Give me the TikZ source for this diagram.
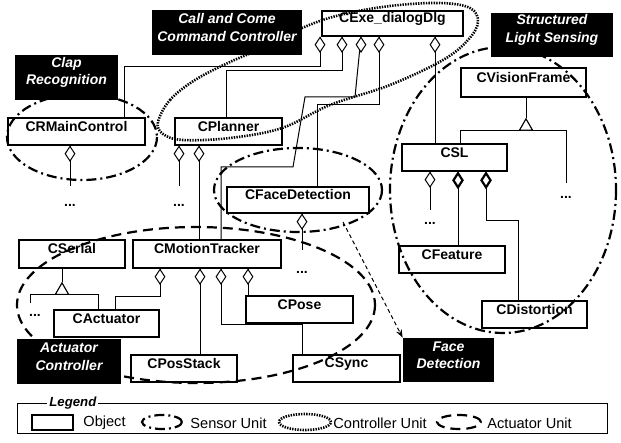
\documentclass[tikz,border=0pt]{standalone}
\usepackage{fontspec}
\setmainfont{Liberation Sans}
\usetikzlibrary{shapes.geometric,fit,arrows.meta}
\newcommand\objfont{\bfseries\fontsize{7}{8}\selectfont}
\newcommand\labfont{\bfseries\itshape\fontsize{7}{8.6}\selectfont}
\newcommand\legfont{\fontsize{7.3}{8.5}\selectfont}
\begin{document}
\begin{tikzpicture}[x=0.5pt,y=-0.5pt,
  obj/.style={draw, fill=white, line width=0.7pt, inner sep=0, font=\objfont},
  lab/.style={fill=black, text=white, inner sep=0, align=center, font=\labfont},
  dia/.style={diamond, draw, fill=white, line width=0.5pt, inner sep=0, minimum width=5pt, minimum height=7.5pt, anchor=north},
  bdia/.style={dia, line width=1.1pt},
  tri/.style={regular polygon, regular polygon sides=3, draw, fill=white, inner sep=0, minimum size=7.5pt, line width=0.5pt, anchor=north},
  conn/.style={line width=0.5pt},
  dotsn/.style={font=\objfont, inner xsep=0},
  sensor/.style={line width=1.1pt, dash pattern=on 5pt off 2pt on 1pt off 2pt},
  ctrl/.style={line width=1.3pt, dash pattern=on 0.7pt off 0.6pt},
  actu/.style={line width=1.1pt, dash pattern=on 5pt off 3pt},
  fdarrow/.style={line width=0.5pt, dash pattern=on 2pt off 1.5pt, -{Stealth[length=4pt,width=3pt]}}
]
\useasboundingbox (0,0) rectangle (621,443);

% ---------- object boxes ----------
\node[obj, fit={(322,11) (463,36)}] (exe) {CExe\_dialogDlg};
\node[obj, fit={(8,118) (145,145)}] (rmc) {CRMainControl};
\node[obj, fit={(175,118) (282,145)}] (plan) {CPlanner};
\node[obj, fit={(461,68) (586,97)}] (vis) {CVisionFrame};
\node[obj, fit={(402,144) (507,171)}] (csl) {CSL};
\node[obj, fit={(227,187) (369,213)}] (face) {CFaceDetection};
\node[obj, fit={(19,240) (125,268)}] (serial) {CSerial};
\node[obj, fit={(133,240) (281,268)}] (motion) {CMotionTracker};
\node[obj, fit={(399,246) (505,273)}] (feat) {CFeature};
\node[obj, fit={(54,310) (159,337)}] (act) {CActuator};
\node[obj, fit={(246,296) (353,323)}] (pose) {CPose};
\node[obj, fit={(131,355) (237,382)}] (posstack) {CPosStack};
\node[obj, fit={(293,355) (400,382)}] (sync) {CSync};
\node[obj, fit={(482,301) (587,328)}] (dist) {CDistortion};

% ---------- "..." ----------
\node[dotsn, inner ysep=9pt] (rdots) at (70,205) {...};
\node[dotsn, inner ysep=9pt] (pdots) at (179,205) {...};
\node[dotsn, inner ysep=10.5pt] (fdots) at (302,272) {...};
\node[dotsn, inner ysep=6pt] (csldots) at (430,223) {...};
\node[dotsn, inner ysep=6.5pt] (vdots) at (566,197) {...};
\node[dotsn, inner ysep=2pt] (adots) at (35,315) {...};
\coordinate (sfree) at (30,303);

% ---------- connectors ----------
\draw[conn] (320,0 |- exe.south) |- (124,67) -- (124,0 |- rmc.north);
\draw[conn] (342,0 |- exe.south) |- (226,71) -- (226,0 |- plan.north);
\draw[conn] (361,0 |- exe.south) -- (355,97) -- (305,97) -- (293,167) -- (221,167) -- (221,0 |- motion.north);
\draw[conn] (379,0 |- exe.south) |- (317,105) -- (317,0 |- face.north);
\draw[conn] (435,0 |- exe.south) -- (435,0 |- csl.north);

\draw[conn] (70,0 |- rmc.south) -- (rdots.north);
\draw[conn] (179,0 |- plan.south) -- (pdots.north);
\draw[conn] (199,0 |- plan.south) -- (199,0 |- motion.north);
\draw[conn] (302,0 |- face.south) -- (fdots.north);

\draw[conn] (160,0 |- motion.south) |- (115,297) -- (115,0 |- act.north);
\draw[conn] (200,0 |- motion.south) -- (200,0 |- posstack.north);
\draw[conn] (221,0 |- motion.south) |- (302,324) -- (302,0 |- sync.north);
\draw[conn] (248,0 |- motion.south) -- (248,0 |- pose.north);

\draw[conn] (430,0 |- csl.south) -- (csldots.north);
\draw[conn] (458,0 |- csl.south) -- (458,0 |- feat.north);
\draw[conn] (486,0 |- csl.south) |- (518,221) -- (518,0 |- dist.north);

% inheritance
\node[tri] (t1) at (526,118) {};
\draw[conn] (t1.north) -- (t1.north |- vis.south);
\draw[conn] (460,0 |- csl.north) |- (t1.south) -| (vdots.north);
\node[tri] (t1) at (526,118) {};
\node[tri] (t2) at (62,282) {};
\draw[conn] (t2.north) -- (t2.north |- serial.south);
\draw[conn] (sfree) |- (t2.south) -| (98,0 |- act.north);
\node[tri] (t2) at (62,282) {};

% aggregation diamonds
\node[dia] (e1) at (320,0 |- exe.south) {};
\node[dia] (e2) at (342,0 |- exe.south) {};
\node[dia] (e3) at (361,0 |- exe.south) {};
\node[dia] (e4) at (379,0 |- exe.south) {};
\node[dia] (e5) at (435,0 |- exe.south) {};
\node[dia] (rd) at (70,0 |- rmc.south) {};
\node[dia] (pd1) at (179,0 |- plan.south) {};
\node[dia] (pd2) at (199,0 |- plan.south) {};
\node[dia] (fd) at (302,0 |- face.south) {};
\node[dia] (md1) at (160,0 |- motion.south) {};
\node[dia] (md2) at (200,0 |- motion.south) {};
\node[dia] (md3) at (221,0 |- motion.south) {};
\node[dia] (md4) at (248,0 |- motion.south) {};
\node[dia] (cd1) at (430,0 |- csl.south) {};
\node[bdia] (cd2) at (458,0 |- csl.south) {};
\node[bdia] (cd3) at (486,0 |- csl.south) {};

% ---------- units ----------
\draw[sensor] (82,137) ellipse [x radius=75, y radius=43];
\draw[sensor] (503,190) ellipse [x radius=113, y radius=143];
\draw[sensor] (298,190) ellipse [x radius=84, y radius=42];
\draw[actu] (196,305) ellipse [x radius=179, y radius=78];
\draw[ctrl] plot[smooth cycle, tension=0.6] coordinates {(158,122) (170,100) (195,80) (230,62) (265,47) (302,28) (340,15) (390,6) (440,3) (470,8) (478,22) (468,40) (443,60) (390,85) (330,105) (282,128) (230,138) (183,140) (163,134)};

\coordinate (fstart) at (343,222);

% ---------- labels ----------
\node[lab, fit={(152,10) (302,55)}] (lcall) {Call and Come\\Command Controller};
\node[lab, fit={(15,55) (118,100)}] (lclap) {Clap\\Recognition};
\node[lab, fit={(491,13) (613,57)}] (lsls) {Structured\\Light Sensing};
\node[lab, fit={(17,339) (121,384)}] (lact) {Actuator\\Controller};
\node[lab, fit={(403,338) (494,382)}] (lface) {Face\\Detection};
\draw[fdarrow] (fstart) -- (lface.north west);

% ---------- legend ----------
\node[draw, line width=0.5pt, inner sep=0, fit={(17,403) (607,433)}] (legbox) {};
\node[fill=white, inner xsep=1pt, inner ysep=0, anchor=west, font=\bfseries\itshape\fontsize{6.6}{7}\selectfont] (legtitle) at (47,403) {Legend};
\node[obj, fit={(32,415) (73,430)}] (legobj) {};
\node[anchor=west, inner sep=0, font=\legfont] (legobjt) at (83,423) {Object};
\node[draw, ellipse, sensor, inner sep=0, minimum width=20pt, minimum height=7pt] (legsen) at (162,422) {};
\node[anchor=west, inner sep=0, font=\legfont] (legsent) at (190,423) {Sensor Unit};
\node[draw, ellipse, ctrl, inner sep=0, minimum width=26pt, minimum height=8pt] (legctl) at (305,422) {};
\node[anchor=west, inner sep=0, font=\legfont] (legctlt) at (333,423) {Controller Unit};
\node[draw, ellipse, actu, inner sep=0, minimum width=22pt, minimum height=7pt] (legact) at (459,422) {};
\node[anchor=west, inner sep=0, font=\legfont] (legactt) at (487,423) {Actuator Unit};
\end{tikzpicture}
\end{document}
